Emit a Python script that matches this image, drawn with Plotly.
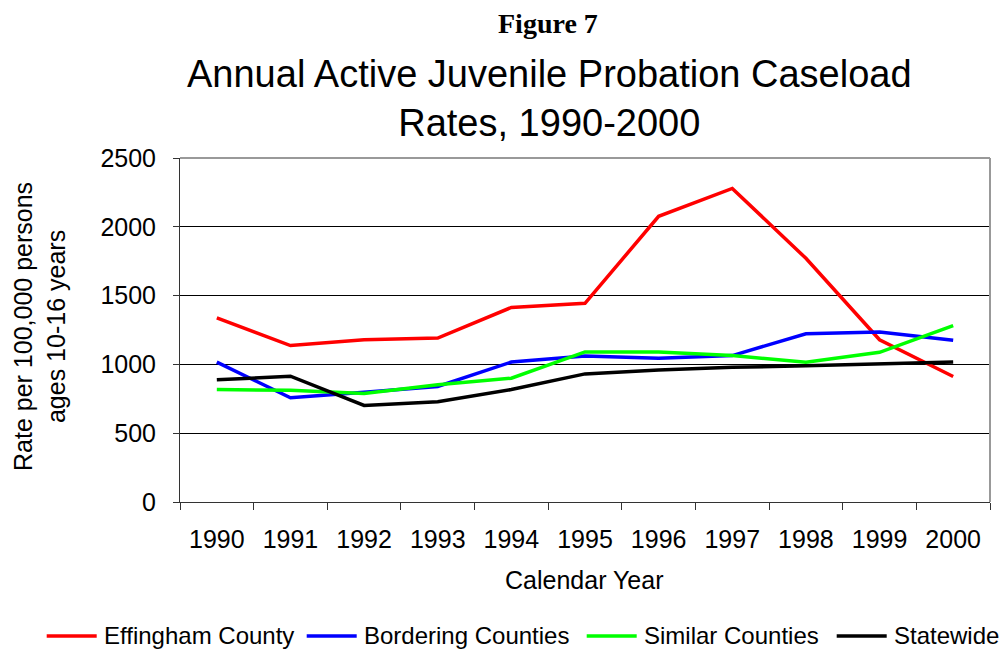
import plotly.graph_objects as go

years = ["1990", "1991", "1992", "1993", "1994", "1995", "1996", "1997", "1998", "1999", "2000"]
effingham = [1338, 1137, 1179, 1191, 1414, 1444, 2076, 2279, 1771, 1179, 912]
bordering = [1017, 757, 798, 840, 1017, 1061, 1044, 1064, 1223, 1235, 1176]
similar = [817, 812, 788, 852, 900, 1091, 1091, 1064, 1015, 1088, 1282]
statewide = [888, 914, 702, 729, 817, 931, 960, 979, 990, 1005, 1017]

series_names = ["Effingham County", "Bordering Counties", "Similar Counties", "Statewide"]
series_values = [effingham, bordering, similar, statewide]
series_colors = ["#ff0000", "#0000ff", "#00ff00", "#000000"]

fig = go.Figure()
for name, vals, col in zip(series_names, series_values, series_colors):
    fig.add_trace(go.Scatter(x=years, y=vals, name=name, mode="lines",
                             line=dict(color=col, width=3.5), showlegend=False))

font = "Liberation Sans, Arial, sans-serif"
L, R, T, B = 180, 12, 158, 147
W, H = 1002, 649
pw = W - L - R
ph = H - T - B


def px(x):
    return (x - L) / pw


def py(y):
    return (H - B - y) / ph


annotations = [
    dict(text="<b>Figure 7</b>", x=px(547.5), y=py(23), xref="paper", yref="paper",
         showarrow=False, xanchor="center", yanchor="middle",
         font=dict(family="Liberation Serif, Times New Roman, serif", size=28)),
    dict(text="Annual Active Juvenile Probation Caseload<br>Rates, 1990-2000", showarrow=False,
         font=dict(size=38), xref="paper", yref="paper", x=px(549), y=py(99),
         xanchor="center", yanchor="middle"),
    dict(text="Rate per 100,000 persons<br>ages 10-16 years", showarrow=False, textangle=-90,
         font=dict(size=25), xref="paper", yref="paper", x=px(39), y=py(327),
         xanchor="center", yanchor="middle"),
    dict(text="Calendar Year", showarrow=False, font=dict(size=25), xref="paper", yref="paper",
         x=px(584), y=py(580), xanchor="center", yanchor="middle"),
]

shapes = [
    dict(type="line", xref="paper", yref="paper", x0=0, x1=1, y0=1, y1=1,
         line=dict(color="#999999", width=2), layer="above"),
    dict(type="line", xref="paper", yref="paper", x0=1, x1=1, y0=0, y1=1,
         line=dict(color="#999999", width=2), layer="above"),
]

# manual legend (line sample + label)
legend_starts = [46.7, 306.7, 586.7, 836.7]
legend_y = 635
for name, col, x0 in zip(series_names, series_colors, legend_starts):
    shapes.append(dict(type="line", xref="paper", yref="paper", x0=px(x0), x1=px(x0 + 50),
                       y0=py(legend_y + 1), y1=py(legend_y + 1), line=dict(color=col, width=3.5)))
    annotations.append(dict(text=name, showarrow=False, font=dict(size=24), xref="paper", yref="paper",
                            x=px(x0 + 55), y=py(legend_y), xanchor="left", yanchor="middle"))

fig.update_layout(
    width=W, height=H,
    margin=dict(l=L, r=R, t=T, b=B, autoexpand=False),
    paper_bgcolor="white", plot_bgcolor="white",
    font=dict(family=font, size=25, color="black"),
    showlegend=False,
    xaxis=dict(type="category", range=[-0.5, 10.5], showgrid=False, showline=True,
               linecolor="#333333", linewidth=1, automargin=False,
               ticks="outside", tickson="boundaries", ticklen=7, tickcolor="#333333",
               tickfont=dict(size=25), ticklabelstandoff=15),
    yaxis=dict(range=[0, 2500], dtick=500, showgrid=True, gridcolor="black", gridwidth=1,
               showline=True, linecolor="#333333", linewidth=1, ticks="outside", ticklen=6,
               tickcolor="#333333", tickfont=dict(size=25), zeroline=False, automargin=False,
               ticklabelstandoff=12),
    annotations=annotations,
    shapes=shapes,
)

fig.write_html("out.html", config={"displayModeBar": False},
               post_script="document.body.style.margin='0';document.body.style.overflow='hidden';")
